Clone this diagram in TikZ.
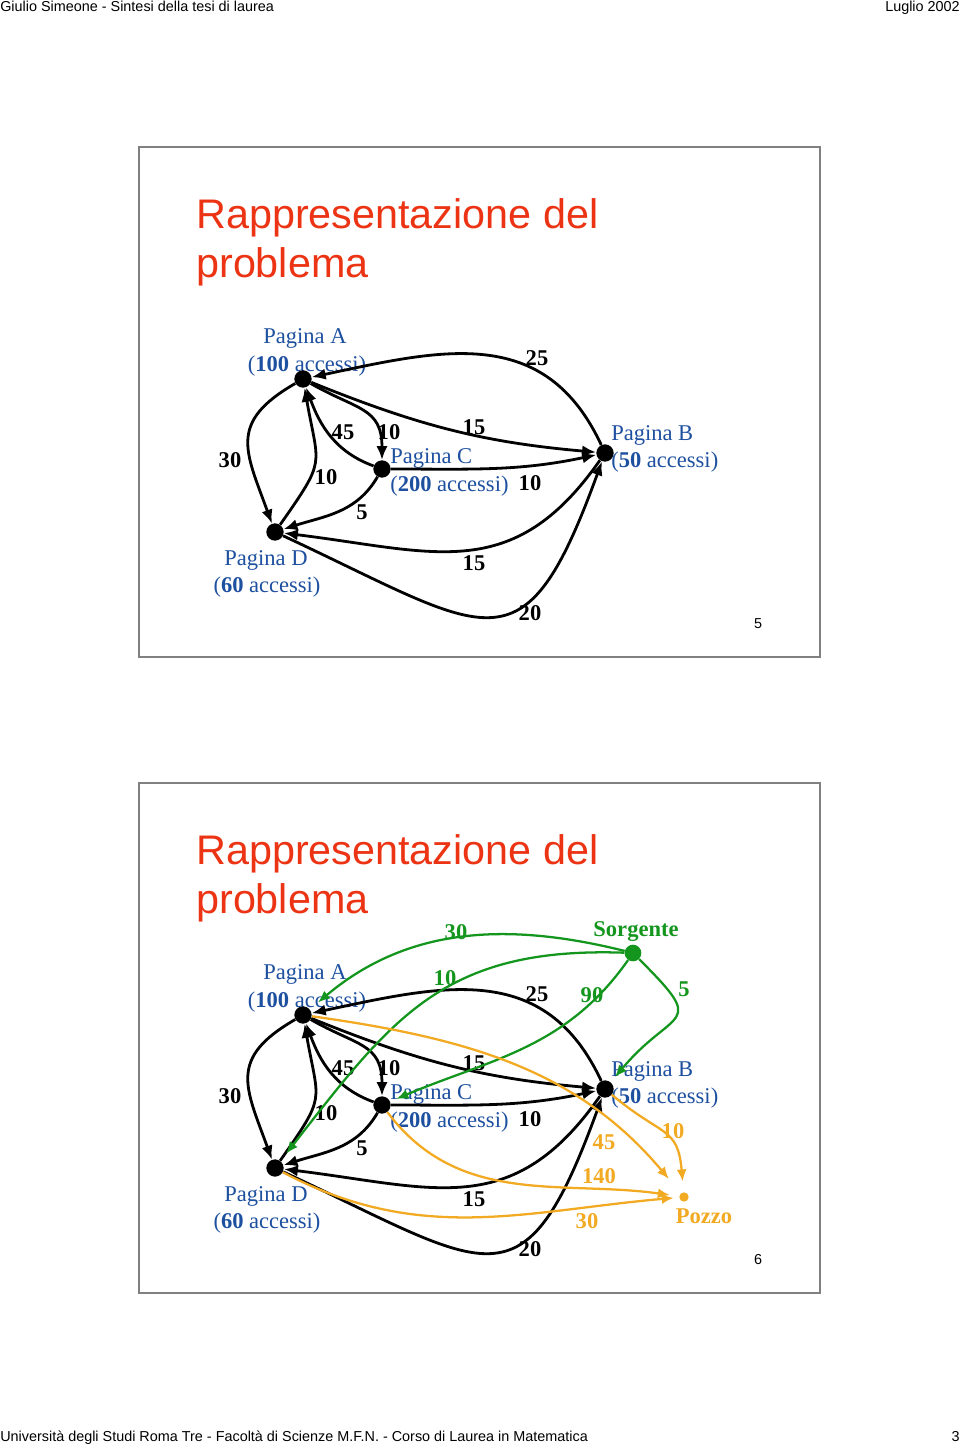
\documentclass[tikz,border=0pt]{standalone}
\usepackage{fontspec}
\setmainfont{Liberation Serif}
\newfontfamily\arialfont{Liberation Sans}
\usepackage{tikz}
\usetikzlibrary{positioning,calc,arrows.meta}

\definecolor{rossotit}{RGB}{236,52,20}
\definecolor{blupag}{RGB}{30,80,160}
\definecolor{verde}{RGB}{20,150,30}
\definecolor{arancio}{RGB}{242,170,35}
\definecolor{cornice}{RGB}{128,128,128}

\begin{document}
\begin{tikzpicture}[
	x=0.75pt, y=0.75pt,
	pagina/.style={circle, fill=black, inner sep=0pt, minimum size=13pt},
	arco/.style={line width=2.1pt, -{Latex[length=10.5pt,width=8.5pt]}},
	arco verde/.style={verde, line width=1.7pt, -{Latex[length=9pt,width=7.5pt]}},
	arco arancio/.style={arancio, line width=1.7pt, -{Latex[length=9pt,width=7.5pt]}},
	nome/.style={inner sep=0pt, text=blupag, font=\fontsize{16.9pt}{20pt}\selectfont},
	peso/.style={inner sep=0pt, font=\fontsize{16.9pt}{20pt}\selectfont\bfseries},
	titolo/.style={inner sep=0pt, anchor=base west, text=rossotit, font=\arialfont\fontsize{31pt}{37pt}\selectfont},
	testata/.style={inner sep=0pt, font=\arialfont\fontsize{10.8pt}{13pt}\selectfont}
	]
	\useasboundingbox[fill=white] (0,0) rectangle (960,-1447);
	% header and footer
	\node[testata, anchor=base west] (autore) at (0,-11) {Giulio Simeone - Sintesi della tesi di laurea};
	\node[testata, anchor=base east] (data) at (960,-11) {Luglio 2002};
	\node[testata, anchor=base west] (ateneo) at (0,-1441) {Università degli Studi Roma Tre - Facoltà di Scienze M.F.N. - Corso di Laurea in Matematica};
	\node[testata, anchor=base east] (foglio) at (960,-1441) {3};
	% the two slides
	\foreach \dy/\pag in {0/5,636/6}{
	\begin{scope}[shift={(0,-\dy)}]
		\draw[cornice, line width=1pt] (139,-147) rectangle (820,-657);
		\node[titolo] (tit1) at (196,-228) {Rappresentazione del};
		\node[titolo] (tit2) at (196,-277) {problema};
		\node[testata] (num) at (758,-624) {\pag};
		% page names
		\node[nome, anchor=base] (nA1) at (305,-343) {Pagina A};
		\node[nome, anchor=base] (nA2) at (307,-371) {(\textbf{100} accessi)};
		\node[nome, anchor=base west] (nC1) at (390,-463) {Pagina C};
		\node[nome, anchor=base west] (nC2) at (390,-491) {(\textbf{200} accessi)};
		\node[nome, anchor=base west] (nB1) at (611,-440) {Pagina B};
		\node[nome, anchor=base west] (nB2) at (611,-467) {(\textbf{50} accessi)};
		\node[nome, anchor=base] (nD1) at (266,-565) {Pagina D};
		\node[nome, anchor=base] (nD2) at (267,-592) {(\textbf{60} accessi)};
		% pages
		\node[pagina] (A) at (303,-379) {};
		\node[pagina] (C) at (382,-469) {};
		\node[pagina] (B) at (605,-453) {};
		\node[pagina] (D) at (275,-532) {};
		% links
		\draw[arco] (B) to[out=115,in=12,looseness=1.15] (A);
		\draw[arco] (A) to[out=210,in=110,looseness=1.4] (D);
		\draw[arco] (D) to[out=55,in=-80,looseness=1.5] (A);
		\draw[arco] (C) to[out=160,in=-70] (A);
		\draw[arco] (A) to[out=-30,in=90,looseness=1.3] (C);
		\draw[arco] (A) to[out=-22,in=175] (B);
		\draw[arco] (C) to[out=0,in=192] (B);
		\draw[arco] (C) to[out=-120,in=18] (D);
		\draw[arco] (B) to[out=-125,in=-7,looseness=1.2] (D);
		\draw[arco] (D) to[out=-25,in=-110,looseness=1.8] (B);
		% weights
		\node[peso] (wBA) at (537,-358) {25};
		\node[peso] (wAD) at (230,-460) {30};
		\node[peso] (wCA) at (343,-432) {45};
		\node[peso] (wAC) at (389,-432) {10};
		\node[peso] (wAB) at (474,-427) {15};
		\node[peso] (wDA) at (326,-477) {10};
		\node[peso] (wCB) at (530,-483) {10};
		\node[peso] (wCD) at (362,-512) {5};
		\node[peso] (wBD) at (474,-563) {15};
		\node[peso] (wDB) at (530,-613) {20};
	\end{scope}
	}
	% source and sink (second slide)
	\node[circle, fill=verde, inner sep=0pt, minimum size=12.5pt] (S) at (633,-953) {};
	\node[circle, fill=arancio, inner sep=0pt, minimum size=7pt] (P) at (684,-1197) {};
	\node[peso, text=verde] (nS) at (636,-932) {Sorgente};
	\node[peso, text=arancio] (nP) at (704,-1216) {Pozzo};
	\draw[arco verde, shorten >=8pt] (S) to[out=166,in=40] (A);
	\draw[arco verde, shorten >=7pt] (S) to[out=178,in=52,looseness=1.15] (D);
	\draw[arco verde, shorten >=5pt] (S) to[out=235,in=23] (C);
	\draw[arco verde, shorten >=5pt] (S) to[out=-45,in=50,looseness=2] (B);
	\draw[arco arancio, shorten >=14pt] (A) to[out=-8,in=130] (P);
	\draw[arco arancio, shorten >=8pt] (B) to[out=-40,in=95,looseness=1.4] (P);
	\draw[arco arancio, shorten >=7pt] (C) to[out=-53,in=172] (P);
	\draw[arco arancio, shorten >=4pt] (D) to[out=-28,in=185] (P);
	\node[peso, text=verde] (wSA) at (456,-932) {30};
	\node[peso, text=verde] (wSD) at (445,-978) {10};
	\node[peso, text=verde] (wSC) at (592,-995) {90};
	\node[peso, text=verde] (wSB) at (684,-989) {5};
	\node[peso, text=arancio] (wAP) at (604,-1142) {45};
	\node[peso, text=arancio] (wBP) at (673,-1131) {10};
	\node[peso, text=arancio] (wCP) at (599,-1176) {140};
	\node[peso, text=arancio] (wDP) at (587,-1221) {30};
\end{tikzpicture}
\end{document}
